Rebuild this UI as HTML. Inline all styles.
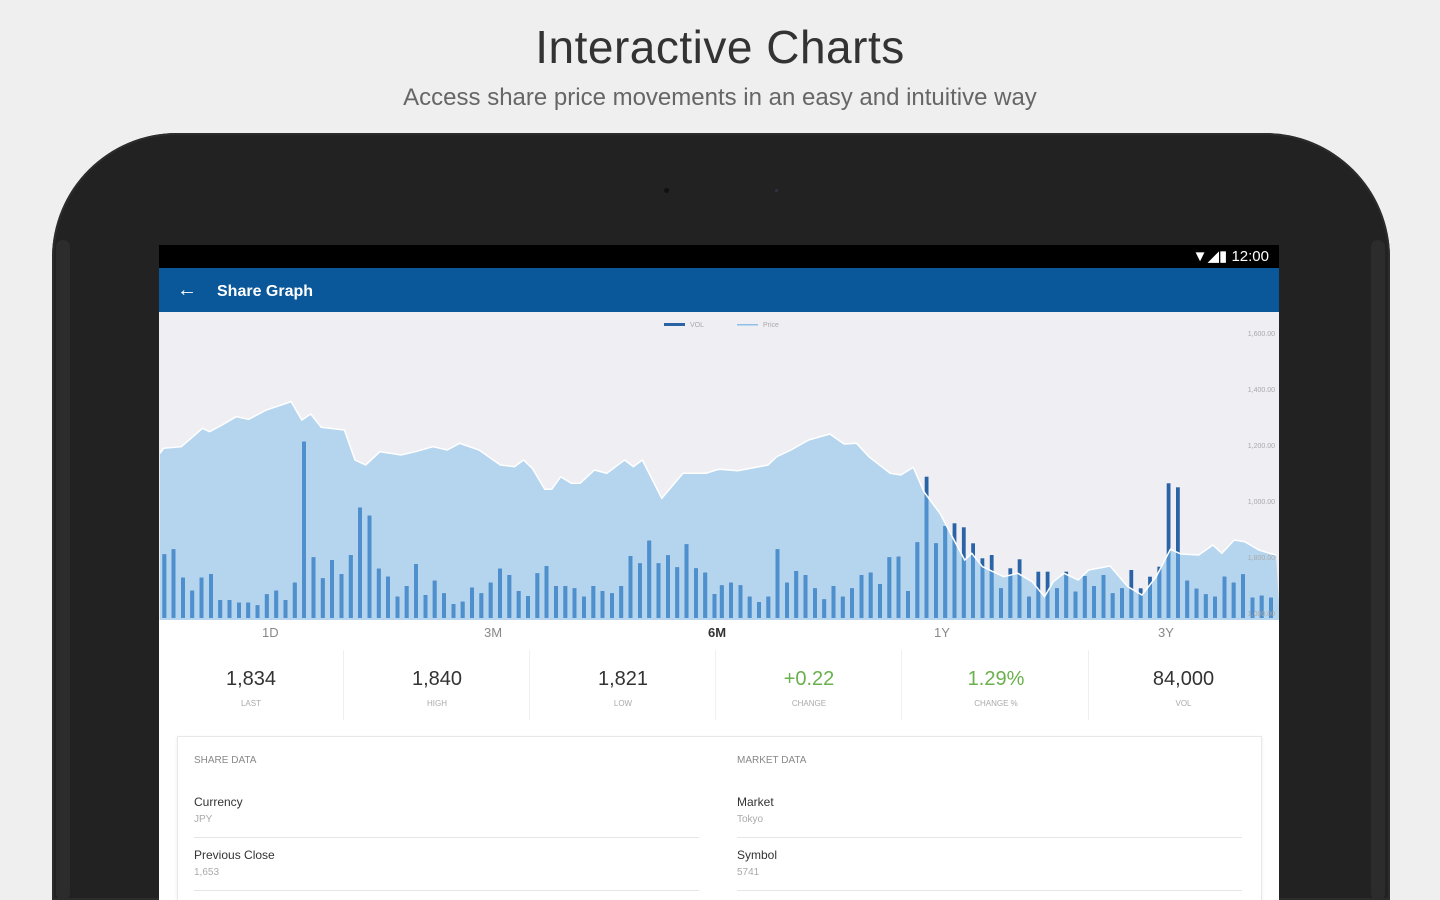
<!DOCTYPE html>
<html><head><meta charset="utf-8"><style>
*{margin:0;padding:0;box-sizing:border-box}
html,body{width:1440px;height:900px;overflow:hidden}
body{background:#efefef;font-family:"Liberation Sans",sans-serif;position:relative}
.h1{position:absolute;top:20px;left:0;width:1440px;text-align:center;font-size:46px;color:#333;letter-spacing:0.5px}
.h2{position:absolute;top:84px;left:0;width:1440px;text-align:center;font-size:24px;color:#666;font-weight:300}
.tab{position:absolute;left:52px;top:133px;width:1338px;height:767px;background:#222;border-radius:125px 125px 0 0;box-shadow:0 0 0 2px #2c2c2c inset}
.spk{position:absolute;top:240px;width:14px;height:660px;background:#2c2c2c;border-radius:7px}
.screen{position:absolute;left:159px;top:245px;width:1120px;height:655px;background:#fff;overflow:hidden}
.sb{height:23px;background:#000;color:#fff;font-size:15px;text-align:right;padding-right:10px;line-height:23px}
.ab{height:44px;background:#0a5799;color:#fff;font-size:16px;font-weight:bold;line-height:44px}
.chart{position:absolute;left:0;top:67px;width:1120px;height:308px;background:#eeeef3}
.tabs{position:absolute;top:376px;left:0;width:1120px;height:26px;font-size:13px;color:#888}
.tabs span{position:absolute;top:4px}
.stats{position:absolute;top:405px;left:0;width:1120px;height:70px}
.st{position:absolute;top:0;width:185px;height:70px;text-align:center;border-right:1px solid #f0f0f0}
.st b{display:block;font-weight:normal;font-size:20px;color:#333;margin-top:18px}
.st i{display:block;font-style:normal;font-size:8px;color:#aaa;margin-top:8px}
.card{position:absolute;left:18px;top:491px;width:1085px;height:200px;border:1px solid #e8e8e8;box-shadow:0 1px 3px rgba(0,0,0,.08)}
.col{position:absolute;top:0;width:505px}
.ttl{font-size:10px;color:#888;margin-top:18px;height:30px}
.row{border-bottom:1px solid #e6e6e6;height:53px;padding-top:10px}
.row b{display:block;font-weight:normal;font-size:12px;color:#333}
.row i{display:block;font-style:normal;font-size:10px;color:#aaa;margin-top:5px}
</style></head><body>
<div class="h1">Interactive Charts</div>
<div class="h2">Access share price movements in an easy and intuitive way</div>
<div class="tab"></div>
<div class="spk" style="left:56px"></div>
<div class="spk" style="left:1371px"></div>
<div style="position:absolute;left:664px;top:188px;width:5px;height:5px;border-radius:50%;background:#111"></div>
<div style="position:absolute;left:775px;top:189px;width:3px;height:3px;border-radius:50%;background:#334"></div>
<div class="screen">
 <div class="sb">▼◢▮ 12:00</div>
 <div class="ab"><span style="margin-left:18px;font-size:20px;font-weight:normal">←</span><span style="margin-left:20px">Share Graph</span></div>
 <div class="chart"><svg id="sv" width="1120" height="308" viewBox="159 312 1120 308"></svg></div>
 <div class="tabs"><span style="left:103px">1D</span><span style="left:325px">3M</span><span style="left:549px;color:#333;font-weight:bold">6M</span><span style="left:775px">1Y</span><span style="left:999px">3Y</span></div>
 <div class="stats">
  <div class="st" style="left:0"><b>1,834</b><i>LAST</i></div>
  <div class="st" style="left:186px"><b>1,840</b><i>HIGH</i></div>
  <div class="st" style="left:372px"><b>1,821</b><i>LOW</i></div>
  <div class="st" style="left:558px"><b style="color:#6ab04c">+0.22</b><i>CHANGE</i></div>
  <div class="st" style="left:745px"><b style="color:#6ab04c">1.29%</b><i>CHANGE %</i></div>
  <div class="st" style="left:932px;border:none"><b>84,000</b><i>VOL</i></div>
 </div>
 <div class="card">
  <div class="col" style="left:16px"><div class="ttl">SHARE DATA</div>
   <div class="row"><b>Currency</b><i>JPY</i></div><div class="row"><b>Previous Close</b><i>1,653</i></div></div>
  <div class="col" style="left:559px"><div class="ttl">MARKET DATA</div>
   <div class="row"><b>Market</b><i>Tokyo</i></div><div class="row"><b>Symbol</b><i>5741</i></div></div>
 </div>
</div>
<script>
var SX=2.82,SY=3;
var p1=[[0,430],[10,415],[60,410],[120,355],[140,365],[175,345],[215,320],[250,328],[300,300],[370,275],[400,330],[425,312],[455,352],[520,360],[550,450],[580,465],[620,425],[680,435],[720,425],[770,410],[810,420],[845,400],[900,420],[960,465],[1000,470],[1025,450],[1050,475],[1085,538],[1105,538],[1130,500],[1160,520],[1185,520],[1225,480],[1260,490],[1310,450],[1335,470],[1360,450],[1415,565],[1475,490],[1540,490],[1568,480]];
var p2=[[0,478],[50,482],[135,465],[160,440],[200,420],[250,390],[310,372],[350,402],[385,400],[420,440],[480,490],[510,495],[545,472],[575,545],[620,610],[660,690],[690,750],[710,730],[740,770],[800,800],[840,790],[880,815],[915,860],[940,815],[970,790],[1010,810],[1040,780],[1100,768],[1150,830],[1190,855],[1230,800],[1270,718],[1300,732],[1350,735],[1390,705],[1415,730],[1450,690],[1480,695],[1520,720],[1550,730],[1568,735]];
var pts=[];p1.forEach(function(a){pts.push([160+a[0]/SX,310+a[1]/SY])});p2.forEach(function(a){pts.push([720+a[0]/SX,310+a[1]/SY])});
var h1=[733,718,803,842,803,792,870,870,878,878,886,853,842,870,818,395,742,805,750,792,735,593,617,776,800,860,828,762,855,812,850,882,875,833,850,818,776,795,843,858,790,768,828,828,835,860,828,843,850,828,738,760,692,760,736,772,703,775,788,852];
var h2=[826,818,826,860,876,860,718,818,783,795,835,868,828,860,835,795,788,822,742,740,843,697,500,700,648,640,652,700,745,735,835,775,748,860,785,785,835,785,845,798,828,795,850,835,780,835,800,770,520,532,812,836,853,860,800,818,793,863,857,863];
var bars=[];h1.forEach(function(h,i){bars.push([160+(12+i*26.3)/SX,310+h/SY])});h2.forEach(function(h,i){bars.push([720+(5+i*26.25)/SX,310+h/SY])});
var poly=pts.map(function(p){return p[0].toFixed(1)+","+p[1].toFixed(1)}).join(" ");
var s='<defs><clipPath id="ca"><polygon points="'+poly+' 1280,620 160,620"/></clipPath></defs>';
s+='<polygon points="'+poly+' 1280,620 160,620" fill="#b5d5ef"/>';
var b='';bars.forEach(function(r){b+='<rect x="'+(r[0]-1.9).toFixed(1)+'" y="'+r[1].toFixed(1)+'" width="3.8" height="'+(618-r[1]).toFixed(1)+'"/>'});
s+='<g fill="#2a63a6">'+b+'</g><g fill="#4e8fcd" clip-path="url(#ca)">'+b+'</g>';
s+='<polyline points="'+poly+'" fill="none" stroke="#fff" stroke-width="1.5"/>';
s+='<rect x="664" y="323" width="21" height="3" fill="#2a63a6"/><text x="690" y="327" font-size="7" fill="#aaa">VOL</text>';
s+='<rect x="737" y="324" width="21" height="1.5" fill="#8fc0ea"/><text x="763" y="327" font-size="7" fill="#aaa">Price</text>';
var yl=[[336,"1,600.00"],[392,"1,400.00"],[448,"1,200.00"],[504,"1,000.00"],[560,"1,800.00"],[616,"1,000.00"]];
yl.forEach(function(l){s+='<text x="1275" y="'+l[0]+'" font-size="7" fill="#aaa" text-anchor="end">'+l[1]+'</text>'});
document.getElementById('sv').innerHTML=s;
</script>
</body></html>
